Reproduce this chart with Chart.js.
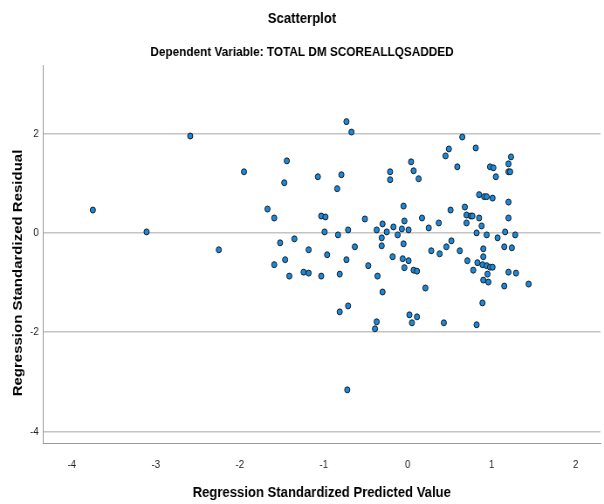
<!DOCTYPE html>
<html>
<head>
<meta charset="utf-8">
<script src="https://cdn.jsdelivr.net/npm/chart.js@4"></script>
<style>
html,body{margin:0;padding:0;background:#fff;overflow:hidden;}
canvas{display:block;}
</style>
</head>
<body>
<canvas id="c" width="692" height="504" style="width:604px;height:504px"></canvas>
<script>
const chartTitle = "Scatterplot";
const chartSubtitle = "Dependent Variable: TOTAL DM SCOREALLQSADDED";
const xAxisTitle = "Regression Standardized Predicted Value";
const yAxisTitle = "Regression Standardized Residual";
const xTicks = [-4, -3, -2, -1, 0, 1, 2];
const yTicks = [-4, -2, 0, 2];

const predicted = [
 -3.75,-3.11,-2.59,-2.25,-1.95,-1.67,-1.59,-1.44,-1.47,-1.35,
 -1.52,-1.18,-1.59,-1.46,-1.41,-1.24,-1.18,-1.07,-0.73,-0.67,
 -0.79,-0.84,-0.21,-0.21,0.04,0.07,0.13,0.45,0.49,-1.03,
 -0.98,-0.99,-0.83,-0.71,-0.51,-0.05,-0.04,0.17,0.25,0.37,
 -0.37,-0.30,-0.25,-0.17,-0.12,-0.07,0.01,-0.31,-0.31,-0.05,
 -0.63,0.28,0.46,0.65,0.81,0.59,0.98,1.02,1.05,1.23,
 1.20,1.20,1.22,0.85,0.91,0.94,1.01,1.20,0.51,0.68,
 0.70,0.75,0.77,0.85,1.20,0.70,0.88,0.82,0.94,1.07,
 1.16,1.28,0.52,0.62,0.90,1.15,1.24,-0.96,-0.73,-1.03,
 -0.81,-0.47,-0.36,-0.18,-0.06,0.01,-0.04,0.07,0.11,0.38,
 -0.30,0.21,-0.81,-0.71,-0.37,-0.39,0.02,0.11,0.05,0.43,
 -0.72,0.90,0.71,0.83,0.89,0.94,0.98,1.01,0.78,0.95,
 1.20,1.29,0.90,0.96,1.15,1.44,0.89,0.82
];
const residual = [
 0.46,0.02,1.95,-0.34,1.23,0.48,0.30,1.45,1.01,-0.12,
 -0.20,-0.34,-0.64,-0.54,-0.87,-0.79,-0.81,1.13,2.24,2.03,
 1.17,0.89,1.23,1.07,1.43,1.25,1.09,1.55,1.69,0.34,
 0.32,0.02,-0.04,0.06,0.28,0.54,0.24,0.30,0.10,0.20,
 0.06,0.18,0.02,0.12,-0.04,0.08,0.06,-0.10,-0.26,-0.22,
 -0.28,-0.36,-0.28,1.93,1.71,1.33,1.33,1.31,1.13,1.53,
 1.39,1.23,1.23,0.77,0.73,0.73,0.70,0.62,0.46,0.52,
 0.36,0.34,0.34,0.30,0.30,0.20,0.14,0.00,-0.04,-0.10,
 0.02,-0.04,-0.16,-0.36,-0.32,-0.28,-0.30,-0.44,-0.54,-0.87,
 -0.83,-0.66,-0.87,-0.48,-0.52,-0.56,-0.70,-0.75,-0.77,-0.42,
 -1.19,-1.11,-1.59,-1.47,-1.79,-1.93,-1.65,-1.69,-1.81,-1.81,
 -3.16,-0.48,-0.56,-0.60,-0.64,-0.66,-0.69,-0.69,-0.75,-0.83,
 -0.79,-0.81,-0.95,-0.99,-1.07,-1.03,-1.41,-1.85
];

const points = predicted.map((x, i) => ({x: x, y: residual[i]}));
const sans = "'Liberation Sans', Arial, sans-serif";

// y-axis title drawn slightly below the axis centre, as in the reference
const yTitlePlugin = {
  id: 'yTitle',
  afterDraw(chart) {
    const ctx = chart.ctx;
    const area = chart.chartArea;
    ctx.save();
    ctx.font = "bold 15px " + sans;
    ctx.fillStyle = '#000';
    ctx.textAlign = 'center';
    ctx.textBaseline = 'middle';
    ctx.translate(21, (area.top + area.bottom) / 2 + 19);
    ctx.rotate(-Math.PI / 2);
    ctx.fillText(yAxisTitle, 0, 0);
    ctx.restore();
  }
};

new Chart(document.getElementById('c'), {
  type: 'scatter',
  data: {
    datasets: [{
      data: points,
      pointStyle: 'circle',
      pointRadius: 3,
      pointHoverRadius: 3,
      pointBackgroundColor: '#158ae0',
      pointBorderColor: '#1c1c1c',
      pointBorderWidth: 1
    }]
  },
  plugins: [yTitlePlugin],
  options: {
    responsive: false,
    animation: false,
    devicePixelRatio: 1,
    layout: { padding: 0 },
    plugins: {
      legend: { display: false },
      tooltip: { enabled: false },
      title: {
        display: true,
        text: chartTitle,
        color: '#000',
        font: { family: sans, size: 15, weight: 'bold', lineHeight: 1.2 },
        padding: { top: 10, bottom: 0 }
      },
      subtitle: {
        display: true,
        text: chartSubtitle,
        color: '#000',
        font: { family: sans, size: 13.5, weight: 'bold', lineHeight: 1.2 },
        padding: { top: 15.9, bottom: 4.9 }
      }
    },
    scales: {
      x: {
        type: 'linear',
        min: -4.343,
        max: 2.296,
        afterBuildTicks: (axis) => { axis.ticks = xTicks.map(v => ({value: v})); },
        afterFit: (axis) => { axis.height = 61; },
        grid: { display: false, drawTicks: false },
        border: { display: true, color: '#9a9a9a', width: 1 },
        ticks: {
          color: '#222',
          padding: 15,
          font: { family: sans, size: 11 },
          maxRotation: 0,
          autoSkip: false
        },
        title: {
          display: true,
          text: xAxisTitle,
          color: '#000',
          font: { family: sans, size: 15, weight: 'bold', lineHeight: 1.2 },
          padding: { top: 0, bottom: 2 }
        }
      },
      y: {
        type: 'linear',
        min: -4.23,
        max: 3.38,
        afterBuildTicks: (axis) => { axis.ticks = yTicks.map(v => ({value: v})); },
        afterFit: (axis) => { axis.width = 49.3; },
        grid: { display: true, drawTicks: false, color: '#c4c4c4', lineWidth: 1.5 },
        border: { display: true, color: '#9a9a9a', width: 1 },
        ticks: {
          color: '#222',
          padding: 5,
          font: { family: sans, size: 11 },
          autoSkip: false
        },
        title: { display: false }
      }
    }
  }
});
</script>
</body>
</html>
